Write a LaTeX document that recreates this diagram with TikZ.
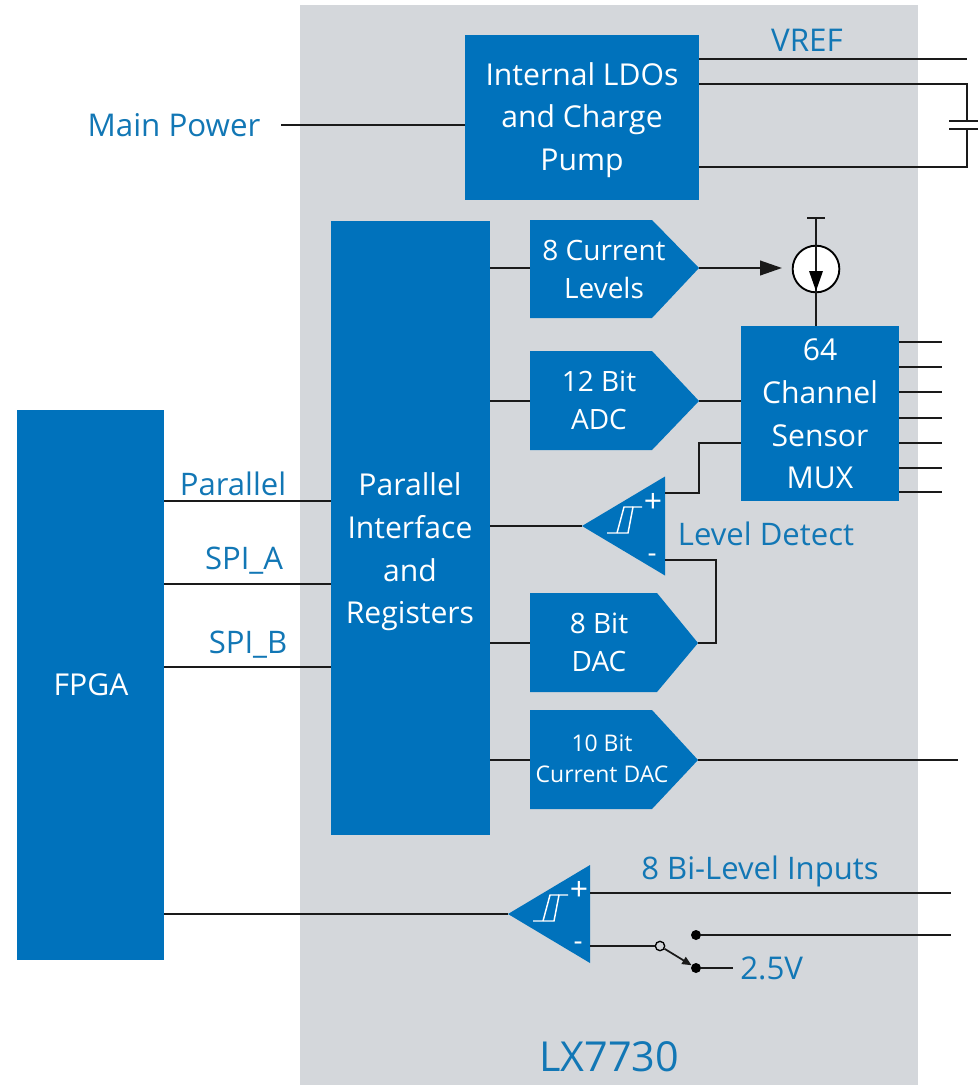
\documentclass[tikz,border=0pt]{standalone}
\usepackage{fontspec}
\setmainfont{Open Sans}
\usetikzlibrary{arrows.meta,calc}
\definecolor{bl}{HTML}{0072BC}
\definecolor{lb}{HTML}{1277B5}
\definecolor{gr}{HTML}{D4D7DB}
\definecolor{wr}{HTML}{1A1A1A}
\newcommand{\fs}[2]{\fontsize{#1}{#2}\selectfont}
\tikzset{
  x=0.75pt,y=-0.75pt,
  boxtext/.style={text=white,align=center,inner sep=0pt,font=\fs{22.6}{32}},
  pentext/.style={text=white,align=center,inner sep=0pt,font=\fs{21}{28.5}},
  lab/.style={text=lb,inner sep=0pt,font=\fs{23.5}{30}},
  slab/.style={text=lb,inner sep=0pt,font=\fs{23.3}{30}},
  hyst/.style={draw=white,line width=1.1pt},
  pplus/.style={text=white,inner sep=0pt,font=\fs{24}{24}},
  pminus/.style={text=white,inner sep=0pt,font=\fs{21}{24}},
  wire/.style={draw=wr,line width=1.5pt},
  tip/.style={-{Triangle[length=16.5pt,width=11pt]}},
  smalltip/.style={-{Triangle[length=7pt,width=6pt]}},
  dot/.style={circle,fill=black,inner sep=0pt,minimum size=7.5pt},
  opencirc/.style={circle,draw=black,fill=gr,line width=1pt,inner sep=0pt,minimum size=7pt},
  csrc/.style={circle,draw=black,fill=white,line width=1.4pt,inner sep=0pt,minimum size=35pt},
}
\newcommand{\comparator}[5]{% name, tip x, tip y, right x offset, half height
  \fill[bl] (#2,#3) -- ++(#4,-#5) -- ++(0,2*#5) -- cycle;
  \coordinate (#1tip) at (#2,#3);
  \draw[hyst] (#2+25,#3+7) -- (#2+46,#3+7) -- (#2+51,#3-19) -- (#2+60,#3-19);
  \draw[hyst] (#2+35,#3+7) -- (#2+42,#3-19) -- (#2+51,#3-19);
  \node[pplus] (#1plus) at (#2+71,#3-23) {+};
  \node[pminus] (#1minus) at (#2+70,#3+32) {-};
}
\newcommand{\pent}[8]{% name, y top, y bottom, shoulder x, tip x, wire y, text x, text
  \fill[bl] (530,#2) -- (#4,#2) -- (#5,#6) -- (#4,#3) -- (530,#3) -- cycle;
  \coordinate (#1tip) at (#5,#6);
  \coordinate (#1in) at (530,#6);
  \node[pentext] (#1) at (#7,{(#2+#3)/2}) {#8};
}
\begin{document}
\begin{tikzpicture}
\useasboundingbox (0,0) rectangle (978,1085);
\fill[gr] (300,5) rectangle (918,1085);

% blocks
\fill[bl] (465,35) rectangle (699,200);
\node[boxtext] (ldo) at (582,120) {Internal LDOs\\and Charge\\Pump};
\fill[bl] (331,221) rectangle (490,835);
\node[boxtext] (par) at (410,552) {Parallel\\Interface\\and\\Registers};
\fill[bl] (17,410) rectangle (164,960);
\node[boxtext] (fpga) at (91,685) {FPGA};
\fill[bl] (741,326) rectangle (899,501);
\node[boxtext] (mux) at (820,414) {64\\Channel\\Sensor\\MUX};

\pent{cur}{220}{318}{652}{699}{268}{604}{8 Current\\Levels}
\pent{adc}{351}{450}{652}{699}{401}{599}{12 Bit\\ADC}
\pent{dac}{593}{692}{657}{698}{643}{599}{8 Bit\\DAC}
\fill[bl] (530,710) -- (652,710) -- (698,760) -- (652,809) -- (530,809) -- cycle;
\coordinate (cdactip) at (698,760);
\coordinate (cdacin) at (530,760);
\node[pentext,font=\fs{17.2}{23}] (cdac) at (602,759) {10 Bit\\Current DAC};

\comparator{ld}{582}{526}{83}{49.5}
\comparator{bi}{508}{914}{82}{49}

% labels
\node[lab] (vref) at (807,40) {VREF};
\node[lab] (mainp) at (174,125) {Main Power};
\node[slab] (lparallel) at (233,484) {Parallel};
\node[slab] (lspia) at (244,561) {SPI\_A};
\node[slab] (lspib) at (248,645) {SPI\_B};
\node[slab] (lldet) at (766,534) {Level Detect};
\node[slab] (lbi) at (760,871) {8 Bi-Level Inputs};
\node[lab,anchor=west] (l25) at (740,968) {2.5V};
\node[text=lb,inner sep=0pt,font=\fs{31}{34}] (lx) at (609,1057) {LX7730};

% connection points
\coordinate (pwr) at (281,125);
\coordinate (ldoin) at (465,125);
\foreach \n/\y in {a/59,b/84,c/167}{\coordinate (ldo\n) at (699,\y);}
\coordinate (vrefend) at (967,59);
\coordinate (capt) at (967,121);
\coordinate (capb) at (967,129);

% power wires
\draw[wire] (pwr) -- (ldoin);
\draw[wire] (ldoa) -- (vrefend);
\draw[wire,line join=miter] (ldob) -| (capt);
\draw[wire,line join=miter] (ldoc) -| (capb);
\draw[wire] ($(capt)+(-18,0)$) -- ($(capt)+(11,0)$);
\draw[wire] ($(capb)+(-18,0)$) -- ($(capb)+(11,0)$);

% current source
\coordinate (ttop) at (816,218);
\coordinate (muxtop) at (816,326);
\node[csrc] (cs) at (816,269) {};
\draw[wire] ($(ttop)+(-9,0)$) -- ($(ttop)+(9,0)$);
\draw[wire] (ttop) -- (muxtop);
\fill[black] (809,271) -- (823,271) -- (816,291) -- cycle;
\draw[wire,tip] (curtip) -- (782,268);

% interface to pentagons
\foreach \y/\t in {268/curin,401/adcin,643/dacin,760/cdacin}{
  \draw[wire] (490,\y) -- (\t);
}
\draw[wire] (490,526) -- (ldtip);

% ADC-MUX
\draw[wire] (adctip) -- (741,401);

% comparator
\draw[wire] (665,493) -- (699,493) -- (699,443) -- (741,443);
\draw[wire] (665,560) -- (716,560) -- (716,643) -- (dactip);

% MUX pins
\foreach \y in {342,367,392,418,443,468,492}{
  \draw[wire] (899,\y) -- (942,\y);
}

% 10 bit
\draw[wire] (cdactip) -- (958,760);

% FPGA lines
\foreach \y in {501,584,667}{
  \draw[wire] (164,\y) -- (331,\y);
}
\draw[wire] (164,914) -- (bitip);

% bi-level
\draw[wire] (590,893) -- (951,893);
\node[opencirc] (sw) at (660,946) {};
\node[dot] (sa) at (696,935) {};
\node[dot] (sb) at (696,968) {};
\draw[wire] (590,946) -- (sw);
\draw[wire] (sa) -- (951,935);
\draw[wire] (sb) -- (733,968);
\draw[wire,line width=1.3pt,smalltip] (sw) -- (sb);
\end{tikzpicture}
\end{document}
